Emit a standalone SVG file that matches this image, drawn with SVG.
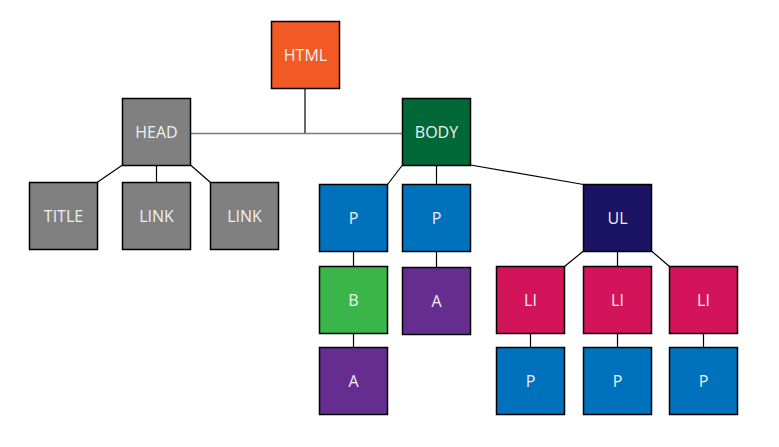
<svg xmlns="http://www.w3.org/2000/svg" width="779" height="447" viewBox="0 0 779 447">
<style>
.n rect{stroke:#000;stroke-width:1.5}
.n text{font-family:"Open Sans","Noto Sans",sans-serif;font-size:16px;fill:#F0F0F0;text-anchor:middle;dominant-baseline:central}
.c line{stroke:#000;stroke-width:1.2}
.gray rect{fill:#808080}
.blue rect{fill:#0071BC}
.li rect{fill:#D4145A}
.pur rect{fill:#662D91}
</style>
<rect width="779" height="447" fill="#fff"/>
<g id="connectors" class="c">
<line x1="305" y1="88" x2="305" y2="133.5"/>
<line x1="190" y1="133.5" x2="402" y2="133.5" style="stroke:#7a7a7a;stroke-width:1.6"/>
<line x1="122.5" y1="165" x2="97" y2="182.5"/>
<line x1="156.5" y1="165" x2="156.5" y2="182.5"/>
<line x1="190.5" y1="165" x2="210.5" y2="182.5"/>
<line x1="402.5" y1="165" x2="387.5" y2="184.5"/>
<line x1="436.5" y1="165" x2="436.5" y2="184.5"/>
<line x1="470.5" y1="165" x2="583.5" y2="184.5"/>
<line x1="353.5" y1="251" x2="353.5" y2="266.5"/>
<line x1="436.5" y1="251" x2="436.5" y2="267.5"/>
<line x1="353.5" y1="333" x2="353.5" y2="347.5"/>
<line x1="583.5" y1="251" x2="564.5" y2="266.5"/>
<line x1="617.5" y1="251" x2="617.5" y2="266.5"/>
<line x1="651.5" y1="251" x2="669.5" y2="266.5"/>
<line x1="530.5" y1="333" x2="530.5" y2="347.5"/>
<line x1="617.5" y1="333" x2="617.5" y2="347.5"/>
<line x1="703.5" y1="333" x2="703.5" y2="347.5"/>
</g>
<g id="html" class="n"><rect x="271.5" y="21.5" width="68" height="67" fill="#F15A24"/><text x="305.5" y="54.5">HTML</text></g>
<g id="head" class="n gray"><rect x="122.5" y="98.5" width="68" height="67"/><text x="156.5" y="131.5">HEAD</text></g>
<g id="body" class="n"><rect x="402.5" y="98.5" width="68" height="67" fill="#006837"/><text x="436.5" y="131.5">BODY</text></g>
<g id="title" class="n gray"><rect x="29.5" y="182.5" width="68" height="67"/><text x="63.5" y="215.5">TITLE</text></g>
<g id="link1" class="n gray"><rect x="122.5" y="182.5" width="68" height="67"/><text x="156.5" y="215.5">LINK</text></g>
<g id="link2" class="n gray"><rect x="210.5" y="182.5" width="68" height="67"/><text x="244.5" y="215.5">LINK</text></g>
<g id="p1" class="n blue"><rect x="319.5" y="184.5" width="68" height="67"/><text x="353.5" y="217.5">P</text></g>
<g id="p2" class="n blue"><rect x="402.5" y="184.5" width="68" height="67"/><text x="436.5" y="217.5">P</text></g>
<g id="ul" class="n"><rect x="583.5" y="184.5" width="68" height="67" fill="#1B1464"/><text x="617.5" y="217.5">UL</text></g>
<g id="b" class="n"><rect x="319.5" y="266.5" width="68" height="67" fill="#39B54A"/><text x="353.5" y="299.5">B</text></g>
<g id="a1" class="n pur"><rect x="402.5" y="267.5" width="68" height="67"/><text x="436.5" y="300.5">A</text></g>
<g id="a2" class="n pur"><rect x="319.5" y="347.5" width="68" height="67"/><text x="353.5" y="380.5">A</text></g>
<g id="li1" class="n li"><rect x="496.5" y="266.5" width="68" height="67"/><text x="530.5" y="299.5">LI</text></g>
<g id="li2" class="n li"><rect x="583.5" y="266.5" width="68" height="67"/><text x="617.5" y="299.5">LI</text></g>
<g id="li3" class="n li"><rect x="669.5" y="266.5" width="68" height="67"/><text x="703.5" y="299.5">LI</text></g>
<g id="p3" class="n blue"><rect x="496.5" y="347.5" width="68" height="67"/><text x="530.5" y="380.5">P</text></g>
<g id="p4" class="n blue"><rect x="583.5" y="347.5" width="68" height="67"/><text x="617.5" y="380.5">P</text></g>
<g id="p5" class="n blue"><rect x="669.5" y="347.5" width="68" height="67"/><text x="703.5" y="380.5">P</text></g>
</svg>
